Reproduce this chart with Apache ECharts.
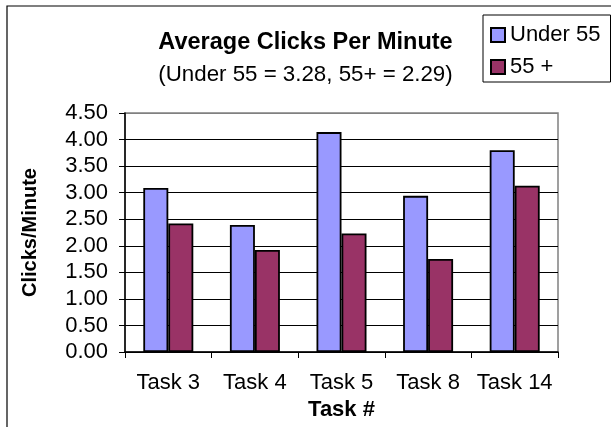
<!DOCTYPE html>
<html>
<head>
<meta charset="utf-8">
<script src="https://cdn.jsdelivr.net/npm/echarts@6/dist/echarts.min.js"></script>
<style>
html,body{margin:0;padding:0;background:#fff;}
#chart{width:611px;height:427px;}
</style>
</head>
<body>
<div id="chart"></div>
<script>
var categories = ['Task 3', 'Task 4', 'Task 5', 'Task 8', 'Task 14'];
var under55 = [3.09, 2.39, 4.14, 2.94, 3.80];
var over55 = [2.42, 1.92, 2.23, 1.75, 3.13];
var seriesNames = ['Under 55', '55 +'];
var titleText = 'Average Clicks Per Minute';
var subtitleText = '(Under 55 = 3.28, 55+ = 2.29)';
var yAxisName = 'Clicks/Minute';
var xAxisName = 'Task #';

var FONT = 'Liberation Sans, Arial, sans-serif';
var chart = echarts.init(document.getElementById('chart'), null, {renderer: 'canvas'});
var splitColors = ['#000','#000','#000','#000','#000','#000','#000','#000','#000','#808080'];
chart.setOption({
  animation: false,
  backgroundColor: '#fff',
  title: [
    {text: titleText, left: 'center', top: 31, padding: 0, itemGap: 0,
     textStyle: {fontFamily: FONT, fontSize: 23.5, fontWeight: 'bold', color: '#000', lineHeight: 23}},
    {text: subtitleText, left: 'center', top: 64, padding: 0,
     textStyle: {fontFamily: FONT, fontSize: 22.3, fontWeight: 'normal', color: '#000', lineHeight: 22}}
  ],
  legend: {
    orient: 'vertical', left: 483, top: 15,
    padding: [9, 10, 4, 7],
    borderColor: '#000', borderWidth: 1,
    itemWidth: 14, itemHeight: 14, itemGap: 10,
    icon: 'rect',
    textStyle: {fontFamily: FONT, fontSize: 22, color: '#000', lineHeight: 22},
    data: seriesNames
  },
  grid: {left: 125, right: 53, top: 113, bottom: 75, show: true, borderColor: '#808080', borderWidth: 1.5, containLabel: false},
  xAxis: {
    type: 'category', data: categories,
    name: xAxisName, nameLocation: 'middle', nameGap: 46,
    nameTextStyle: {fontFamily: FONT, fontSize: 22, fontWeight: 'bold', color: '#000', lineHeight: 22},
    axisLine: {lineStyle: {color: '#000', width: 1.5}},
    axisTick: {show: true, length: 6, lineStyle: {color: '#000', width: 1}},
    axisLabel: {interval: 0, hideOverlap: false, fontFamily: FONT, fontSize: 22, color: '#000', margin: 20, lineHeight: 22},
    splitLine: {show: false}
  },
  yAxis: {
    type: 'value', min: 0, max: 4.5, interval: 0.5,
    name: yAxisName, nameLocation: 'middle', nameGap: 85, nameRotate: 90,
    nameTextStyle: {fontFamily: FONT, fontSize: 20, fontWeight: 'bold', color: '#000'},
    axisLine: {show: true, lineStyle: {color: '#000', width: 1.5}},
    axisTick: {show: true, length: 6, lineStyle: {color: '#000', width: 1}},
    axisLabel: {fontFamily: FONT, fontSize: 22, color: '#000', margin: 17,
      formatter: function (v) { return v.toFixed(2); }},
    splitLine: {show: true, lineStyle: {color: splitColors, width: 1}}
  },
  series: [
    {name: seriesNames[0], type: 'bar', data: under55, barWidth: 25, barGap: '0%',
     itemStyle: {color: '#9999FF', borderColor: '#000', borderWidth: 1.8}},
    {name: seriesNames[1], type: 'bar', data: over55, barWidth: 25, barGap: '0%',
     itemStyle: {color: '#993366', borderColor: '#000', borderWidth: 1.8}}
  ],
  graphic: [
    {type: 'rect', silent: true, z: 100, shape: {x: 7, y: 6, width: 700, height: 500},
     style: {fill: 'none', stroke: '#000', lineWidth: 1.2}}
  ]
});
</script>
</body>
</html>
